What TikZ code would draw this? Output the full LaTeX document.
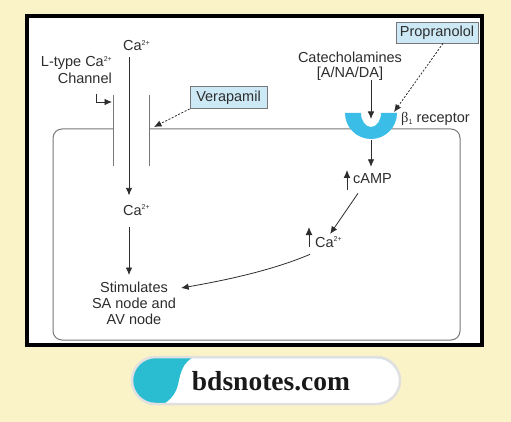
\documentclass[tikz,border=0pt]{standalone}
\usepackage{fontspec}
\setmainfont{Liberation Sans}
\newfontfamily\sitefont{Liberation Serif}
\newfontfamily\greekfont{Liberation Serif}
\usetikzlibrary{arrows.meta}

\definecolor{cream}{RGB}{251,243,200}
\definecolor{drugblue}{RGB}{206,233,246}
\definecolor{cupblue}{RGB}{58,190,232}
\definecolor{sitecyan}{RGB}{42,188,208}
\definecolor{ink}{RGB}{45,45,45}
\definecolor{wall}{RGB}{120,120,120}

\newcommand\chg[1]{\raisebox{5.5pt}{\fontsize{7}{7}\selectfont #1}}
\newcommand\lowidx[1]{\raisebox{-2pt}{\fontsize{7}{7}\selectfont #1}}

\tikzset{
  lbl/.style={inner sep=0pt, text=ink, font=\fontsize{14.5}{16}\selectfont},
  drug/.style={lbl, draw=wall, fill=drugblue, line width=0.8pt, minimum height=22pt},
  flow/.style={->, draw=ink, line width=0.8pt},
  block/.style={flow, dash pattern=on 2pt off 1.6pt},
  rise/.style={-{Latex[length=8pt,width=7pt]}, draw=ink, line width=1pt},
}

\begin{document}
\begin{tikzpicture}[x=1pt, y=-1pt, >={Latex[length=7.5pt,width=6.5pt]}]
        \fill [cream] (0,0) rectangle (511,422);
        \draw [line width=4pt, fill=white] (27,16) rectangle (482,345);
        % membrane and channel
        \draw [wall, line width=1pt, rounded corners=9pt] (113,129) -- (53,129) -- (53,340) -- (460,340) -- (460,129) -- (149,129);
        \draw [wall, line width=1pt] (113,95) -- (113,166);
        \draw [wall, line width=1pt] (149,95) -- (149,166);
        \coordinate (pore) at (129,0);
        \coordinate (wallL) at (112,102);
        \coordinate (wallR) at (154,127);
        % receptor cup
        \fill [cupblue] (345,113) arc [start angle=180, end angle=0, radius=26] -- (381,113) arc [start angle=0, end angle=180, x radius=10, y radius=14] -- cycle;
        \coordinate (bind) at (371,119);
        \coordinate (cupbase) at (371,140);
        \coordinate (cupR) at (394,112);

        \node [lbl, anchor=base west] (catop) at (123,51) {Ca\chg{2+}};
        \node [lbl, anchor=base west] (camid) at (123,215) {Ca\chg{2+}};
        \node [lbl, anchor=north east, align=right, font=\fontsize{14.5}{17}\selectfont] (ltype) at (112,56) {L-type Ca\chg{2+}\\Channel};
        \node [drug, minimum width=77pt] (vera) at (228.5,97.5) {Verapamil};
        \node [drug, minimum width=82pt, minimum height=21pt] (prop) at (437,32.5) {Propranolol};
        \node [lbl, anchor=north, align=center, font=\fontsize{14.5}{15}\selectfont] (cat) at (350,51.5) {Catecholamines\\{[A/NA/DA]}};
        \node [lbl, anchor=base west] (beta) at (401,123) {{\greekfont β}\lowidx{1} receptor};
        \node [lbl, anchor=base west] (camp) at (353,184) {cAMP};
        \node [lbl, anchor=base west] (carise) at (315,247) {Ca\chg{2+}};
        \node [lbl, anchor=north, align=center] (stim) at (134,282) {Stimulates\\SA node and\\AV node};

        \draw [flow, shorten <=6pt, shorten >=9pt] (catop.south -| pore) -- (camid.north -| pore);
        \draw [flow, shorten <=12pt, shorten >=7pt] (camid.south -| pore) -- (stim.north -| pore);
        \draw [flow] (ltype.south east) ++(-16,10) |- (wallL);
        \draw [block] (vera.south west) -- (wallR);
        \draw [block] ([xshift=6pt]prop.south) -- (cupR);
        \draw [flow] (cat.south -| bind) -- (bind);
        \draw [flow, shorten >=7pt] (cupbase) -- (camp.north -| cupbase);
        \draw [rise] (camp.base west) ++(-6,6) -- ++(0,-20);
        \draw [rise] (carise.base west) ++(-6,0) -- ++(0,-20);
        \draw [flow, shorten >=3pt] (camp.south west) ++(5,9) -- (carise.north);
        \draw [flow] (carise.south west) ++(-5,7) .. controls +(-40,17) and +(40,-7) .. ([xshift=5pt,yshift=-6pt]stim.north east);

        % banner
        \begin{scope}
        \path [clip, rounded corners=23.5pt] (132,357) rectangle (400,404);
        \fill [white] (130,355) rectangle (402,406);
        \fill [sitecyan] (130,355) -- (200,355) .. controls (185,358) and (181,370) .. (179,380) .. controls (177,392) and (172,400) .. (160,406) -- (130,406) -- cycle;
        \end{scope}
        \draw [sitecyan!60, line width=1.2pt] (195,357.6) -- (376.5,357.6) arc [start angle=-90, end angle=-30, radius=23];
        \draw [black!12, line width=2.5pt, rounded corners=23.5pt] (132,357) rectangle (400,404);
        \node [anchor=base, text=black!90, font=\sitefont\bfseries\fontsize{27.5}{30}\selectfont] (site) at (271,390) {bdsnotes.com};
\end{tikzpicture}
\end{document}
